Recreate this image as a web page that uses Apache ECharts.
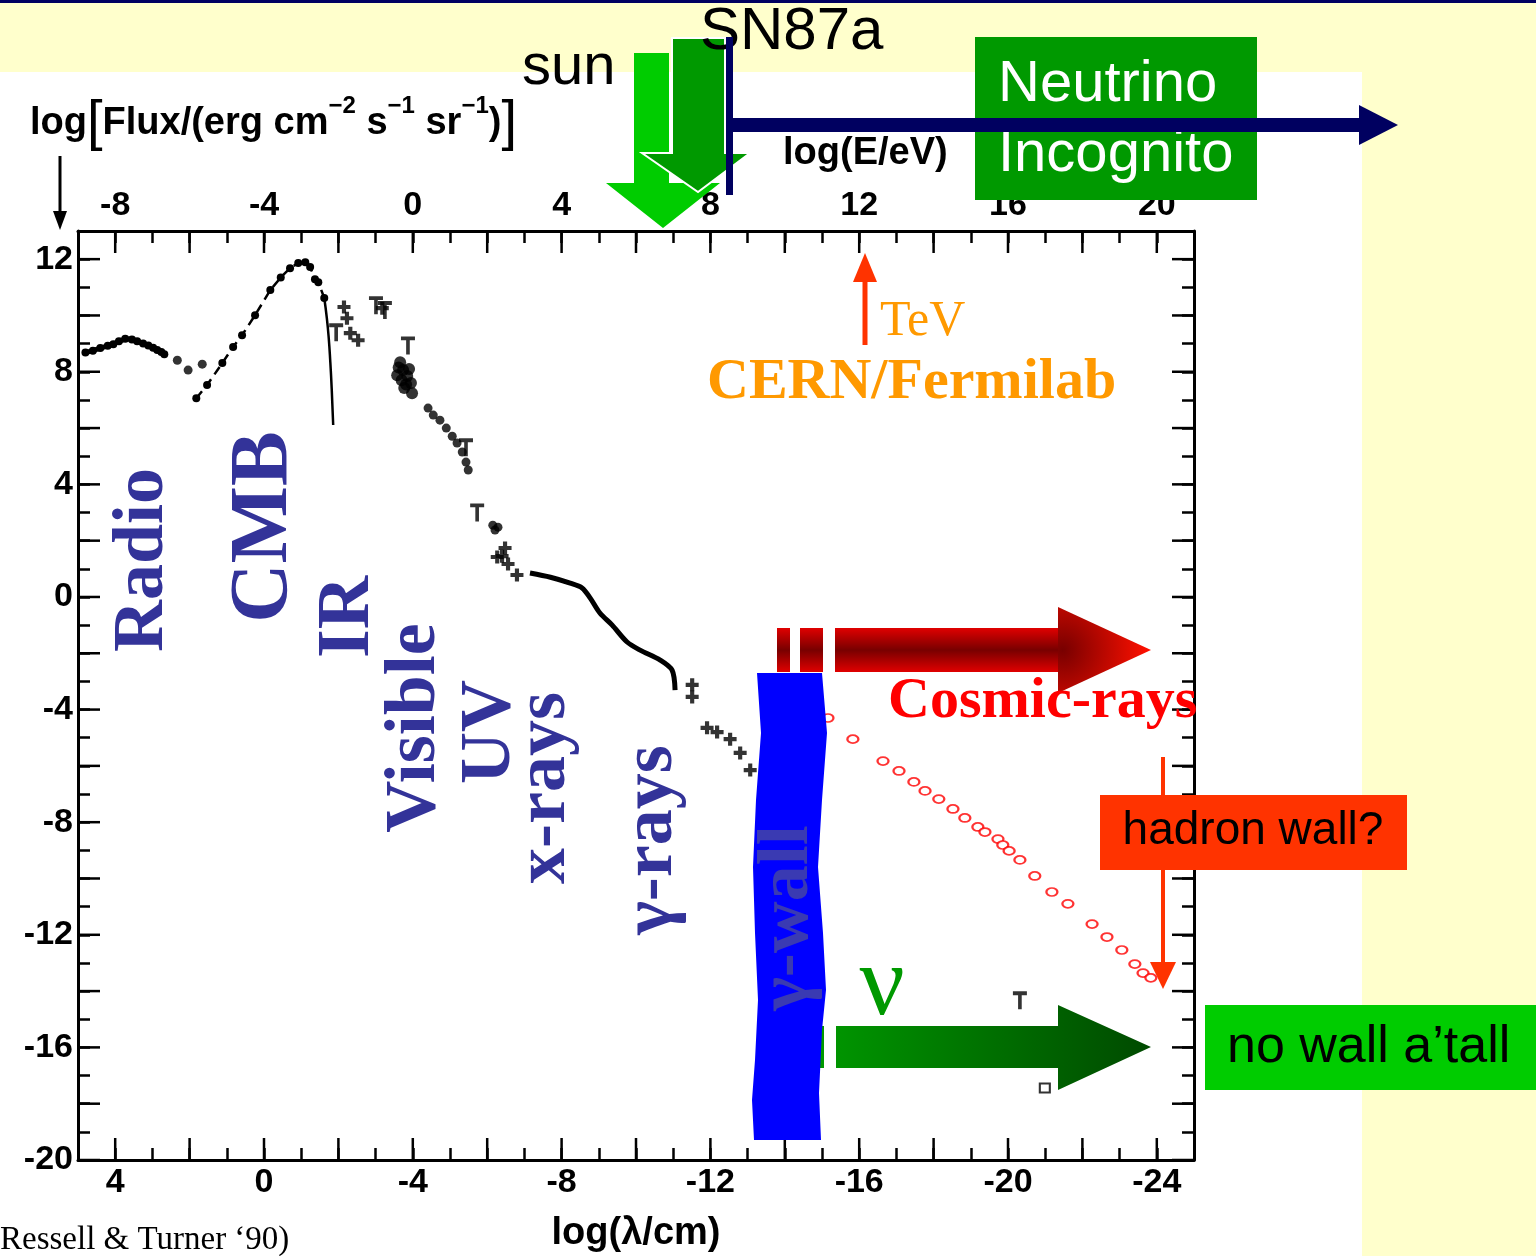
<!DOCTYPE html>
<html><head><meta charset="utf-8">
<script src="https://cdn.jsdelivr.net/npm/echarts@6/dist/echarts.min.js"></script>
<style>html,body{margin:0;padding:0;background:#FFFFCC;}#c{width:1536px;height:1256px;}</style>
</head><body><div id="c"></div>
<script>
// ---------- tick values ----------
const lamLabelTicks = [4, 0, -4, -8, -12, -16, -20, -24];
const eLabelTicks = [-8, -4, 0, 4, 8, 12, 16, 20];
const fluxLabelTicks = [12, 8, 4, 0, -4, -8, -12, -16, -20];
const lamLongTicks = [4, 2, 0, -2, -4, -6, -8, -10, -12, -14, -16, -18, -20, -22, -24];
const fluxLongTicks = [12, 10, 8, 6, 4, 2, 0, -2, -4, -6, -8, -10, -12, -14, -16, -18, -20];

// ---------- data (log lambda/cm , log flux) ----------
const radioLam  = [4.80, 4.60, 4.40, 4.20, 4.05, 3.90, 3.73, 3.55, 3.41, 3.25, 3.11, 2.98, 2.87, 2.76, 2.68];
const radioFlux = [8.68, 8.75, 8.84, 8.92, 8.98, 9.08, 9.17, 9.15, 9.08, 9.00, 8.93, 8.85, 8.77, 8.70, 8.62];
const radioDotLam  = [2.33, 2.04, 1.66];
const radioDotFlux = [8.41, 8.06, 8.27];
const cmbRiseLam  = [1.82, 1.53, 1.12, 0.83, 0.59, 0.24, -0.17, -0.45, -0.70, -0.92, -1.11, -1.24, -1.37, -1.46, -1.62];
const cmbRiseFlux = [7.06, 7.53, 8.31, 8.88, 9.30, 10.01, 10.90, 11.35, 11.68, 11.86, 11.89, 11.72, 11.29, 11.18, 10.62];
const cmbFallLam  = [-1.62, -1.69, -1.74, -1.78, -1.82, -1.86];
const cmbFallFlux = [10.62, 9.90, 9.20, 8.40, 7.40, 6.11];
const crossLam  = [-2.15, -2.23, -2.32, -2.53, -3.18, -6.48, -6.27, -6.56, -6.80, -6.40, -11.51, -11.51, -11.91, -12.18, -12.53, -12.80, -13.07];
const crossFlux = [10.30, 9.90, 9.37, 9.12, 10.26, 1.74, 1.42, 1.17, 0.78, 1.45, -3.12, -3.55, -4.65, -4.80, -5.05, -5.54, -6.15];
const limitLam  = [-1.94, -3.01, -3.25, -3.87, -5.43, -5.73, -20.32];
const limitFlux = [9.66, 10.62, 10.45, 9.19, 5.57, 3.26, -14.07];
const visLam  = [-3.58, -3.66, -3.74, -3.85, -3.95, -3.77, -3.98, -3.70, -3.90, -3.62, -3.82];
const visFlux = [7.88, 8.34, 8.06, 7.85, 7.60, 7.42, 7.24, 7.70, 8.10, 8.15, 7.55];
const uvLam  = [-4.41, -4.55, -4.73, -4.90, -5.06, -5.19, -5.33, -5.43, -5.49, -6.21, -6.29, -6.15];
const uvFlux = [6.71, 6.46, 6.28, 6.00, 5.71, 5.47, 5.15, 4.79, 4.51, 2.38, 2.48, 2.55];
const xrayLam  = [-7.15, -7.70, -8.23, -8.55, -8.77, -9.03, -9.36, -9.76, -10.11, -10.65, -10.97, -11.05];
const xrayFlux = [0.85, 0.70, 0.49, 0.32, -0.04, -0.57, -1.00, -1.60, -1.89, -2.24, -2.60, -3.31];
const squareLam  = [-20.99];
const squareFlux = [-17.44];
const crLam  = [-15.16, -15.83, -16.64, -17.07, -17.47, -17.77, -18.14, -18.52, -18.84, -19.19, -19.38, -19.73,
                -19.86, -20.03, -20.32, -20.72, -21.18, -21.61, -22.26, -22.66, -23.06, -23.41, -23.63, -23.84];
const crFlux = [-4.30, -5.05, -5.83, -6.18, -6.57, -6.89, -7.18, -7.53, -7.85, -8.17, -8.35, -8.60,
                -8.81, -9.02, -9.34, -9.91, -10.48, -10.90, -11.62, -12.08, -12.54, -13.04, -13.36, -13.53];

const pts = (xs, ys) => xs.map((x, i) => [x, ys[i]]);

const BLACK = '#000';
const SANS = '"Liberation Sans", Arial, sans-serif';
const SERIF = '"Liberation Serif", "Times New Roman", serif';
const tickFont = {color: BLACK, fontSize: 34, fontWeight: 'bold', fontFamily: SANS};
const plusSym = 'path://M3.4,0H6.6V3.4H10V6.6H6.6V10H3.4V6.6H0V3.4H3.4Z';
const tSym = 'path://M0,0H10V2.6H6.3V12H3.7V2.6H0Z';

const chart = echarts.init(document.getElementById('c'), null, {renderer: 'canvas'});

function rotLabel(text, x, y, size, fill, z) {
  return {type: 'text', x: x, y: y, rotation: Math.PI / 2, z: z || 50,
    style: {text: text, font: 'bold ' + size + 'px ' + SERIF, fill: fill || '#333399',
      align: 'center', verticalAlign: 'middle', textAlign: 'center', textVerticalAlign: 'middle'}};
}
function txt(text, x, y, font, fill, align, z) {
  return {type: 'text', x: x, y: y, z: z || 60,
    style: {text: text, font: font, fill: fill, align: align || 'left', verticalAlign: 'middle',
      textAlign: align || 'left', textVerticalAlign: 'middle'}};
}
function poly(points, fill, z, stroke) {
  const st = {fill: fill};
  if (stroke) { st.stroke = stroke; st.lineWidth = 2; }
  return {type: 'polygon', z: z || 40, shape: {points: points}, style: st};
}
function rect(x, y, w, h, fill, z) {
  return {type: 'rect', z: z || 40, shape: {x: x, y: y, width: w, height: h}, style: {fill: fill}};
}

const navy = '#000060';
const crBarGrad = {type: 'linear', x: 0, y: 0, x2: 0, y2: 1,
  colorStops: [{offset: 0, color: '#E00000'}, {offset: 0.5, color: '#780000'}, {offset: 1, color: '#E00000'}]};
const crHeadGrad = {type: 'radial', x: 0.05, y: 0.5, r: 1.0,
  colorStops: [{offset: 0, color: '#780000'}, {offset: 1, color: '#FF1000'}]};
const nuGrad = {type: 'linear', x: 0, y: 0, x2: 1, y2: 0,
  colorStops: [{offset: 0, color: '#009400'}, {offset: 1, color: '#004A00'}]};
const wallPts = [[757, 673], [822, 673], [827, 733], [822, 800], [818, 867], [823, 933], [826, 990], [822, 1030],
  [819, 1093], [821, 1140], [754, 1140], [752, 1100], [755, 1060], [758, 1000], [755, 933],
  [753, 867], [756, 800], [761, 733]];

const graphics = [
  rect(0, 72, 1362, 1184, '#FFFFFF', -100),
  rect(0, 0, 1536, 3, navy, -99),
  // axis captions
  {type: 'text', x: 30, y: 124, z: 60, style: {
    text: '{a|log}{b|[}{a|Flux/(erg cm}{s|−2}{a| s}{s|−1}{a| sr}{s|−1}{a|)}{b|]}',
    verticalAlign: 'middle', textVerticalAlign: 'middle',
    rich: {
      a: {fontSize: 38, fontWeight: 'bold', fontFamily: SANS, fill: BLACK, lineHeight: 60},
      b: {fontSize: 56, fontFamily: SANS, fill: BLACK, lineHeight: 60},
      s: {fontSize: 24, fontWeight: 'bold', fontFamily: SANS, fill: BLACK, verticalAlign: 'top', lineHeight: 40}
    }}},
  txt('log(E/eV)', 783, 154, 'bold 38px ' + SANS, BLACK),
  {type: 'line', z: 60, shape: {x1: 60, y1: 156, x2: 60, y2: 214}, style: {stroke: BLACK, lineWidth: 3}},
  poly([[53, 211], [67, 211], [60, 230]], BLACK, 60),
  // sun / SN87a arrows
  txt('sun', 522, 68, '58px ' + SANS, BLACK),
  poly([[634, 53], [669, 53], [669, 183], [720, 183], [663, 228], [606, 183], [634, 183]], '#00CC00', 41),
  poly([[672, 38], [725, 38], [725, 153], [750, 153], [698, 192], [642, 153], [672, 153]], '#009900', 42, '#FFFFFF'),
  txt('SN87a', 700, 32, '60px ' + SANS, BLACK, 'left', 43),
  rect(975, 37, 282, 163, '#009900', 44),
  txt('Neutrino', 998, 85, '58px ' + SANS, '#FFFFFF', 'left', 45),
  txt('Incognito', 998, 155, '58px ' + SANS, '#FFFFFF', 'left', 45),
  rect(726, 37, 7, 158, navy, 46),
  rect(729, 118, 632, 14, navy, 46),
  poly([[1359, 105], [1398, 125], [1359, 145]], navy, 46),
  // TeV
  {type: 'line', z: 60, shape: {x1: 865, y1: 345, x2: 865, y2: 276}, style: {stroke: '#FF3300', lineWidth: 5}},
  poly([[853, 282], [877, 282], [865, 253]], '#FF3300', 60),
  txt('TeV', 880, 322, '50px ' + SERIF, '#FF9900'),
  txt('CERN/Fermilab', 707, 383, 'bold 58px ' + SERIF, '#FF9900'),
  // band labels
  rotLabel('Radio', 143, 560, 72),
  rotLabel('CMB', 265, 527, 82),
  rotLabel('IR', 349, 617, 74),
  rotLabel('Visible', 415, 728, 72),
  rotLabel('UV', 490, 732, 72),
  rotLabel('x-rays', 545, 788, 72),
  rotLabel('γ-rays', 652, 840, 72),
  // cosmic ray arrow
  rect(777, 628, 13, 44, crBarGrad, 40),
  rect(800, 628, 23, 44, crBarGrad, 40),
  rect(835, 628, 224, 44, crBarGrad, 40),
  poly([[1058, 607], [1151, 650], [1058, 693]], crHeadGrad, 40),
  txt('Cosmic-rays', 888, 702, 'bold 58px ' + SERIF, '#FF0000'),
  // hadron wall
  {type: 'line', z: 60, shape: {x1: 1163, y1: 757, x2: 1163, y2: 966}, style: {stroke: '#FF3300', lineWidth: 4}},
  poly([[1150, 962], [1176, 962], [1163, 989]], '#FF3300', 60),
  rect(1100, 795, 307, 75, '#FF3300', 61),
  txt('hadron wall?', 1253, 831, '46px ' + SANS, BLACK, 'center', 62),
  // neutrino arrow
  rect(812, 1026, 12, 42, '#009900', 40),
  poly([[836, 1026], [1058, 1026], [1058, 1005], [1151, 1047], [1058, 1090], [1058, 1068], [836, 1068]], nuGrad, 40),
  txt('ν', 882, 988, '100px ' + SERIF, '#009900', 'center', 60),
  rect(1205, 1005, 331, 85, '#00CC00', 61),
  txt('no wall a’tall', 1227, 1048, '52px ' + SANS, BLACK, 'left', 62),
  // gamma wall
  poly(wallPts, '#0000FF', 70),
  rotLabel('γ-wall', 788, 918, 72, '#3A3AB2', 71),
  txt('Ressell & Turner ‘90)', 0, 1240, '33px ' + SERIF, BLACK)
];

const axisBase = {
  type: 'value', interval: 1, splitLine: {show: false},
  axisLine: {show: true, onZero: false, lineStyle: {color: BLACK, width: 3}},
  axisTick: {show: true, inside: true, length: 12, lineStyle: {color: BLACK, width: 2.5}}
};

const option = {
  backgroundColor: '#FFFFCC',
  animation: false,
  grid: {left: 78, top: 231, width: 1116, height: 929, containLabel: false, outerBoundsMode: 'none'},
  xAxis: [
    Object.assign({}, axisBase, {position: 'bottom', min: -25, max: 5, inverse: true,
      name: 'log(λ/cm)', nameLocation: 'middle', nameGap: 55,
      nameTextStyle: {color: BLACK, fontSize: 38, fontWeight: 'bold', fontFamily: SANS},
      axisLabel: Object.assign({margin: 6, formatter: v => lamLabelTicks.includes(v) ? String(v) : ''}, tickFont)}),
    Object.assign({}, axisBase, {position: 'top', min: -9, max: 21,
      axisLabel: Object.assign({margin: 8, formatter: v => eLabelTicks.includes(v) ? String(v) : ''}, tickFont)})
  ],
  yAxis: [
    Object.assign({}, axisBase, {position: 'left', min: -20, max: 13,
      axisLabel: Object.assign({margin: 5, formatter: v => fluxLabelTicks.includes(v) ? String(v) : ''}, tickFont)}),
    Object.assign({}, axisBase, {position: 'right', min: -20, max: 13, axisLabel: {show: false}})
  ],
  graphic: {elements: graphics},
  series: [
    {type: 'custom', xAxisIndex: 0, yAxisIndex: 0, silent: true, clip: false, z: 5,
      data: lamLongTicks.map(v => [v, -20]), encode: {x: 0, y: 1},
      renderItem: function (params, api) {
        const v = api.value(0);
        const b = api.coord([v, -20]);
        const t = api.coord([v, 13]);
        return {type: 'group', children: [
          {type: 'line', shape: {x1: b[0], y1: b[1], x2: b[0], y2: b[1] - 22}, style: {stroke: BLACK, lineWidth: 2.5}},
          {type: 'line', shape: {x1: t[0], y1: t[1], x2: t[0], y2: t[1] + 22}, style: {stroke: BLACK, lineWidth: 2.5}}
        ]};
      }},
    {type: 'custom', xAxisIndex: 0, yAxisIndex: 0, silent: true, clip: false, z: 5,
      data: fluxLongTicks.map(v => [5, v]), encode: {x: 0, y: 1},
      renderItem: function (params, api) {
        const v = api.value(1);
        const l = api.coord([5, v]);
        const r = api.coord([-25, v]);
        return {type: 'group', children: [
          {type: 'line', shape: {x1: l[0], y1: l[1], x2: l[0] + 22, y2: l[1]}, style: {stroke: BLACK, lineWidth: 2.5}},
          {type: 'line', shape: {x1: r[0], y1: r[1], x2: r[0] - 22, y2: r[1]}, style: {stroke: BLACK, lineWidth: 2.5}}
        ]};
      }},
    {name: 'radio', type: 'line', data: pts(radioLam, radioFlux), symbol: 'circle', symbolSize: 8,
      lineStyle: {color: BLACK, width: 5}, itemStyle: {color: BLACK}, z: 3},
    {name: 'radio dots', type: 'scatter', data: pts(radioDotLam, radioDotFlux), symbol: 'circle', symbolSize: 9,
      itemStyle: {color: BLACK}, z: 3},
    {name: 'cmb', type: 'line', data: pts(cmbRiseLam, cmbRiseFlux), symbol: 'circle', symbolSize: 8,
      lineStyle: {color: BLACK, width: 2.5, type: [9, 6]}, itemStyle: {color: BLACK}, z: 3},
    {name: 'cmb tail', type: 'line', data: pts(cmbFallLam, cmbFallFlux), symbol: 'none', smooth: true,
      lineStyle: {color: BLACK, width: 2.5}, z: 3},
    {name: 'crosses', type: 'scatter', data: pts(crossLam, crossFlux), symbol: plusSym, symbolSize: 13,
      itemStyle: {color: BLACK}, z: 3},
    {name: 'limits', type: 'scatter', data: pts(limitLam, limitFlux), symbol: tSym, symbolSize: [14, 18],
      symbolOffset: [0, '40%'], itemStyle: {color: BLACK}, z: 3},
    {name: 'visible', type: 'scatter', data: pts(visLam, visFlux), symbol: 'circle', symbolSize: 12,
      itemStyle: {color: BLACK}, z: 3},
    {name: 'uv', type: 'scatter', data: pts(uvLam, uvFlux), symbol: 'circle', symbolSize: 9,
      itemStyle: {color: BLACK}, z: 3},
    {name: 'xray', type: 'line', data: pts(xrayLam, xrayFlux), symbol: 'none', smooth: 0.3,
      lineStyle: {color: BLACK, width: 5}, z: 3},
    {name: 'square', type: 'scatter', data: pts(squareLam, squareFlux), symbol: 'emptyRect', symbolSize: [10, 9],
      itemStyle: {color: BLACK, borderColor: BLACK, borderWidth: 2}, z: 3},
    {name: 'cosmic rays', type: 'scatter', data: pts(crLam, crFlux), symbol: 'emptyCircle', symbolSize: [11, 8],
      itemStyle: {color: '#FF0000', borderColor: '#FF0000', borderWidth: 2}, z: 4}
  ]
};
chart.setOption(option);
</script></body></html>
